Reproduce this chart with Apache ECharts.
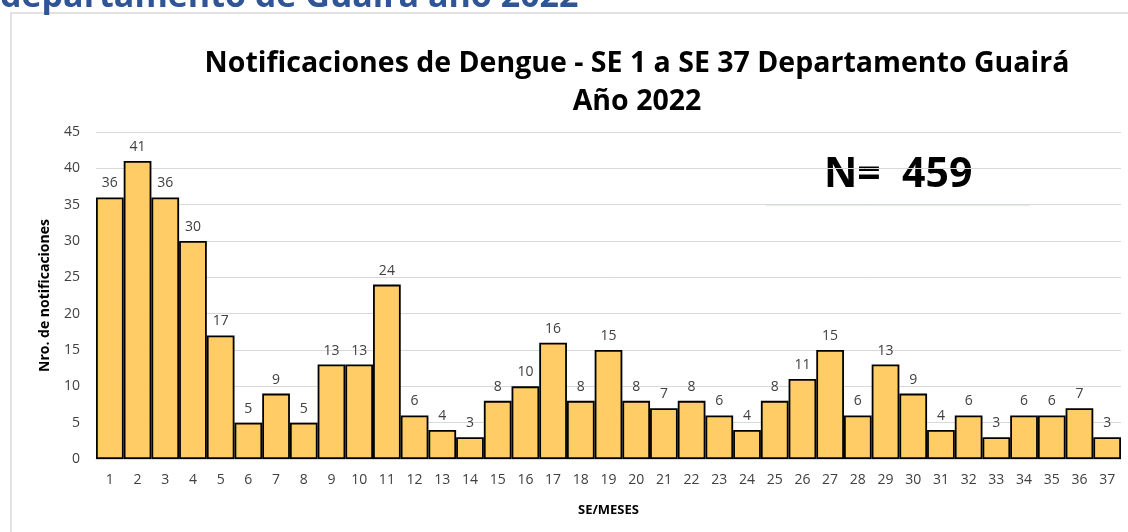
<!DOCTYPE html>
<html>
<head>
    <meta charset="utf-8">
    <title>Dengue Guaira 2022</title>
    <script src="https://cdn.jsdelivr.net/npm/echarts@6/dist/echarts.min.js"></script>
    <style>
        body { margin: 0; background: #fff; }
    </style>
</head>
<body>
    <div id="main" style="width: 1128px;height:532px;"></div>
    <script type="text/javascript">
        var semanas = [];
        for (var i = 1; i <= 37; i++) semanas.push(String(i));

        var notificaciones = [36, 41, 36, 30, 17, 5, 9, 5, 13, 13, 24, 6, 4, 3, 8, 10, 16, 8, 15,
                              8, 7, 8, 6, 4, 8, 11, 15, 6, 13, 9, 4, 6, 3, 6, 6, 7, 3];

        var titulo = 'Notificaciones de Dengue - SE 1 a SE 37 Departamento Guairá\nAño 2022';
        var totalTexto = 'N=  459';

        var myChart = echarts.init(document.getElementById('main'));

        var option = {
            animation: false,
            textStyle: { fontFamily: 'Open Sans' },
            title: {
                text: titulo,
                left: 632,
                top: 40,
                textAlign: 'center',
                textStyle: {
                    fontFamily: 'Open Sans',
                    fontSize: 28.5,
                    fontWeight: 'bold',
                    color: '#000',
                    lineHeight: 38
                }
            },
            graphic: [
                {
                    type: 'rect',
                    shape: { x: 11, y: 13, width: 1140, height: 540 },
                    style: { fill: 'none', stroke: '#d9d9d9', lineWidth: 1.5 },
                    silent: true
                },
                {
                    type: 'text',
                    left: 0,
                    top: -20,
                    style: {
                        text: 'departamento de Guaira año 2022',
                        font: 'bold 34px "Open Sans"',
                        fill: '#2F5597'
                    }
                },
                {
                    type: 'line',
                    shape: { x1: 766, y1: 205, x2: 1030, y2: 205 },
                    style: { stroke: '#d5ecd5', lineWidth: 1.5 }
                },
                {
                    type: 'text',
                    left: 824,
                    top: 155,
                    style: {
                        text: totalTexto,
                        font: 'bold 41px "Open Sans"',
                        fill: '#000'
                    }
                }
            ],
            grid: {
                left: 96,
                right: 7,
                top: 132,
                bottom: 73
            },
            xAxis: {
                type: 'category',
                data: semanas,
                name: 'SE/MESES',
                nameLocation: 'middle',
                nameGap: 45,
                nameTextStyle: { fontSize: 13, fontWeight: 'bold', color: '#000' },
                axisLine: { lineStyle: { color: '#d9d9d9', width: 1 } },
                axisTick: { show: false },
                axisLabel: { fontSize: 14, color: '#404040', margin: 14 }
            },
            yAxis: {
                type: 'value',
                min: 0,
                max: 45,
                interval: 5,
                name: 'Nro. de notificaciones',
                nameLocation: 'middle',
                nameGap: 44,
                nameTextStyle: { fontSize: 14, fontWeight: 'bold', color: '#000' },
                axisLine: { show: false },
                axisTick: { show: false },
                axisLabel: { fontSize: 14, color: '#404040', margin: 16 },
                splitLine: { lineStyle: { color: '#d9d9d9', width: 1 } }
            },
            series: [
                {
                    type: 'bar',
                    data: notificaciones,
                    barCategoryGap: '0%',
                    itemStyle: {
                        color: '#FFCC66',
                        borderColor: '#000',
                        borderWidth: 1.8
                    },
                    label: {
                        show: true,
                        position: 'top',
                        distance: 7,
                        fontSize: 14,
                        color: '#404040'
                    }
                }
            ]
        };
        myChart.setOption(option);
    </script>
</body>
</html>
